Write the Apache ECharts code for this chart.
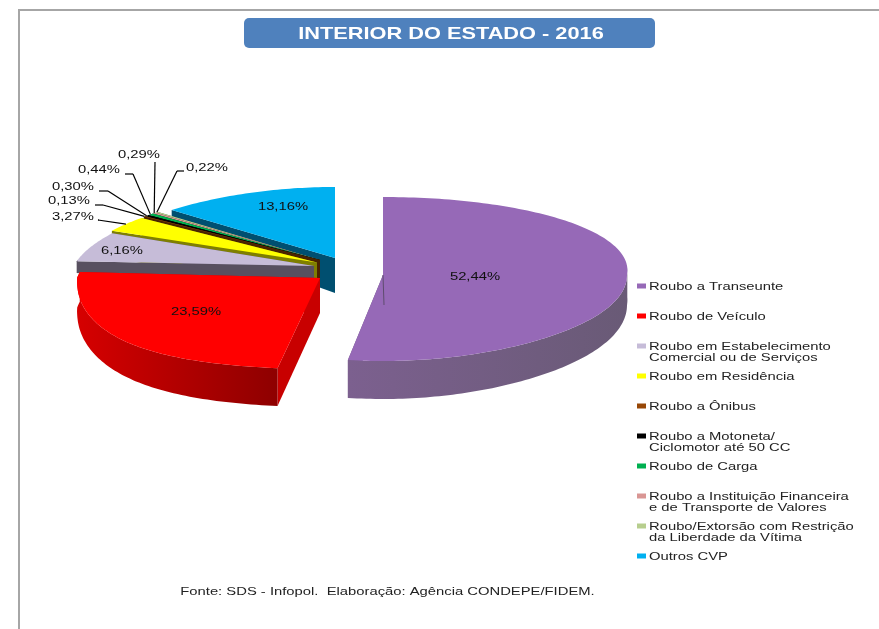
<!DOCTYPE html>
<html>
<head>
<meta charset="utf-8">
<style>
  html, body { margin: 0; padding: 0; background: #fff; overflow: hidden; }
  #main { width: 879px; height: 629px; }
</style>
<script src="https://cdn.jsdelivr.net/npm/echarts@6/dist/echarts.min.js"></script>
</head>
<body>
<div id="main"></div>
<script>
const titleText = 'INTERIOR DO ESTADO - 2016';
const sourceText = 'Fonte: SDS - Infopol.  Elaboração: Agência CONDEPE/FIDEM.';
const categories = [
  'Roubo a Transeunte',
  'Roubo de Veículo',
  'Roubo em Estabelecimento\nComercial ou de Serviços',
  'Roubo em Residência',
  'Roubo a Ônibus',
  'Roubo a Motoneta/\nCiclomotor até 50 CC',
  'Roubo de Carga',
  'Roubo a Instituição Financeira\ne de Transporte de Valores',
  'Roubo/Extorsão com Restrição\nda Liberdade da Vítima',
  'Outros CVP'
];
const percentValues = [52.44, 23.59, 6.16, 3.27, 0.13, 0.30, 0.44, 0.29, 0.22, 13.16];

// aparencia de cada fatia: cor, parede, explosao do pie 3D e ordem de pintura
const topColors = ['#9669B7', '#FF0000', '#C6BCD8', '#FFFF00', '#974706', '#000000', '#00B050', '#D99694', '#B7CE8E', '#00B0F0'];
const sideColors = ['#6F5C80', '#C80000', '#585060', '#7F7F00', '#4A2300', '#000000', '#00582A', '#6C4A4A', '#5B6747', '#004F70'];
const explode = [
  { cx: 383, cy: 275, R: 244, ryBack: 78, ryFront: 86, p: -0.06, yPow: 1, wall: 1 },
  { cx: 320, cy: 278, R: 243, ryBack: 91, ryFront: 91, p: 0.15, yPow: 0.8, wall: 1 },
  { cx: 314, cy: 266, R: 240, ryBack: 75, ryFront: 75, p: 0.15, yPow: 1, wall: 0.4 },
  { cx: 317, cy: 262.5, R: 244, ryBack: 73, ryFront: 73, p: 0.15, yPow: 1, wall: 1 },
  { cx: 320, cy: 260, R: 245, ryBack: 71, ryFront: 71, p: 0.15, yPow: 1, wall: 1 },
  { cx: 320, cy: 260, R: 245, ryBack: 71, ryFront: 71, p: 0.15, yPow: 1, wall: 1 },
  { cx: 320, cy: 260, R: 245, ryBack: 71, ryFront: 71, p: 0.15, yPow: 1, wall: 1 },
  { cx: 320, cy: 260, R: 245, ryBack: 71, ryFront: 71, p: 0.15, yPow: 1, wall: 1 },
  { cx: 320, cy: 260, R: 245, ryBack: 71, ryFront: 71, p: 0.15, yPow: 1, wall: 1 },
  { cx: 335, cy: 258, R: 247, ryBack: 71, ryFront: 71, p: 0.15, yPow: 1, wall: 1 }
];
const paintOrder = [10, 9, 8, 7, 6, 5, 4, 3, 2, 1];
const labelPos = [[475, 277], [196, 312], [122, 251], [73, 217], [69, 201], [73, 187], [99, 170], [139, 155], [207, 168], [283, 207]];
const labelElbow = [null, null, null, [98, 220], [103, 205], [108, 191], [133, 174], [155, 162], [177, 171], null];

const TEXT_STRETCH = 1.345;
const APEX_DEPTH = 35;
const total = percentValues.reduce((a, b) => a + b, 0);

function formatPct(v) {
  return v.toFixed(2).replace('.', ',') + '%';
}
function wallDepth(theta) {
  return 30 - 8 * Math.cos(theta);
}
function project(s, theta, dy) {
  const c = Math.cos(theta);
  const yTerm = c > 0 ? -s.ryBack * c : s.ryFront * Math.pow(-c, s.yPow);
  const xScale = c > 0 ? 1 - s.p * c : 1 + s.p * Math.pow(-c, 3);
  return [s.cx + s.R * xScale * Math.sin(theta), s.cy + yTerm + (dy || 0)];
}
function renderSlice(params, api) {
  const i = params.dataIndex;
  const s = explode[i];
  const value = api.value(0);
  let before = 0;
  for (let k = 0; k < i; k++) before += percentValues[k];
  const a0 = before / total * Math.PI * 2;
  const a1 = (before + value) / total * Math.PI * 2;
  const z = paintOrder[i] * 10;
  const steps = Math.max(4, Math.ceil((a1 - a0) / 0.02));
  const arc = [];
  for (let k = 0; k <= steps; k++) arc.push(a0 + (a1 - a0) * k / steps);
  const apex = [s.cx, s.cy];
  const apexLow = [s.cx, s.cy + APEX_DEPTH];
  const children = [];

  // faces radiais
  [a0, a1].forEach(function (a) {
    children.push({
      type: 'polygon', z2: z,
      shape: { points: [apex, project(s, a), project(s, a, wallDepth(a) * s.wall), apexLow] },
      style: { fill: sideColors[i] }
    });
  });
  // parede externa (so a parte da frente aparece)
  const front = arc.filter(a => Math.cos(a) < 0.1);
  if (front.length > 1) {
    const upper = front.map(a => project(s, a));
    const lower = front.map(a => project(s, a, wallDepth(a) * s.wall)).reverse();
    const stops = i === 0
      ? [{ offset: 0, color: '#695A76' }, { offset: 1, color: '#7C608F' }]
      : i === 1
        ? [{ offset: 0, color: '#D60000' }, { offset: 1, color: '#8E0000' }]
        : [{ offset: 0, color: sideColors[i] }, { offset: 1, color: sideColors[i] }];
    const grad = i === 0
      ? new echarts.graphic.LinearGradient(1, 0, 0, 0, stops)
      : new echarts.graphic.LinearGradient(0, 0, 1, 0, stops);
    children.push({
      type: 'polygon', z2: z + 1,
      shape: { points: upper.concat(lower) },
      style: { fill: grad }
    });
  }
  // tampo
  children.push({
    type: 'polygon', z2: z + 2,
    shape: { points: [apex].concat(arc.map(a => project(s, a))) },
    style: { fill: topColors[i] }
  });
  // dobra escura no meio da primeira fatia
  if (i === 0) {
    children.push({
      type: 'line', z2: z + 3,
      shape: { x1: s.cx, y1: s.cy, x2: s.cx + 1, y2: s.cy + 30 },
      style: { stroke: '#5E4C6E', lineWidth: 1 }
    });
  }
  // linha de chamada
  const elbow = labelElbow[i];
  if (elbow) {
    const mid = project(s, (a0 + a1) / 2);
    children.push({
      type: 'polyline', z2: 900,
      shape: { points: [elbow, mid] },
      style: { stroke: '#000', lineWidth: 1.2, fill: null }
    });
    const near = labelPos[i][0] < elbow[0] ? [labelPos[i][0] + 26, elbow[1]] : [labelPos[i][0] - 23, elbow[1]];
    if (i !== 7) {
      children.push({
        type: 'line', z2: 900,
        shape: { x1: near[0], y1: near[1], x2: elbow[0], y2: elbow[1] },
        style: { stroke: '#000', lineWidth: 1.2 }
      });
    }
  }
  // rotulo
  children.push({
    type: 'text', z2: 1000,
    x: labelPos[i][0], y: labelPos[i][1], scaleX: TEXT_STRETCH,
    style: {
      text: formatPct(value), fill: '#111',
      font: '11px "Liberation Sans"',
      textAlign: 'center', textVerticalAlign: 'middle'
    }
  });
  return { type: 'group', children: children };
}

// legenda
const legendEls = [];
categories.forEach(function (name, i) {
  const y = 286 + i * 30;
  legendEls.push({
    type: 'rect', shape: { x: 637, y: y - 2.5, width: 9, height: 5 },
    style: { fill: topColors[i] }
  });
  name.split('\n').forEach(function (line, n) {
    legendEls.push({
      type: 'text', x: 649, y: y + 0.5 + n * 11.5, scaleX: TEXT_STRETCH,
      style: {
        text: line, fill: '#222',
        font: '11px "Liberation Sans"',
        textAlign: 'left', textVerticalAlign: 'middle'
      }
    });
  });
});

const myChart = echarts.init(document.getElementById('main'));
const option = {
  animation: false,
  backgroundColor: '#fff',
  graphic: [
    { type: 'line', shape: { x1: 18, y1: 10, x2: 879, y2: 10 }, style: { stroke: '#A6A6A6', lineWidth: 2 } },
    { type: 'line', shape: { x1: 19, y1: 9, x2: 19, y2: 629 }, style: { stroke: '#A6A6A6', lineWidth: 2 } },
    { type: 'rect', shape: { x: 244, y: 18, width: 411, height: 30, r: 5 }, style: { fill: '#4F81BD' } },
    {
      type: 'text', x: 451, y: 34, scaleX: 1.28,
      style: {
        text: titleText, fill: '#fff',
        font: 'bold 17px "Liberation Sans"',
        textAlign: 'center', textVerticalAlign: 'middle'
      }
    },
    {
      type: 'text', x: 387.5, y: 592, scaleX: TEXT_STRETCH,
      style: {
        text: sourceText, fill: '#222',
        font: '11px "Liberation Sans"',
        textAlign: 'center', textVerticalAlign: 'middle'
      }
    },
    { type: 'group', children: legendEls }
  ],
  series: [
    {
      type: 'custom',
      coordinateSystem: 'none',
      silent: true,
      renderItem: renderSlice,
      data: percentValues.map((v, i) => ({ name: categories[i], value: [v] }))
    }
  ]
};
option && myChart.setOption(option);
</script>
</body>
</html>
